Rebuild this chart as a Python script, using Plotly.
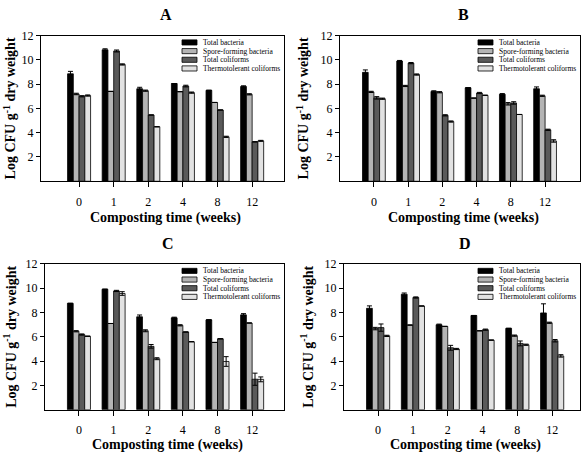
import plotly.graph_objects as go

# ---------------- data ----------------
weeks = ["0", "1", "2", "4", "8", "12"]
series_names = ["Total bacteria", "Spore-forming bacteria", "Total coliforms", "Thermotolerant coliforms"]
series_colors = ["#000000", "#b4b4b4", "#5a5a5a", "#e2e2e2"]
panel_letters = ["A", "B", "C", "D"]
y_ticks = [2, 4, 6, 8, 10, 12]

# Panel A
A_total_bacteria = [8.85, 10.83, 7.62, 8.05, 7.49, 7.81]
A_spore_forming = [7.19, 7.40, 7.46, 7.38, 6.49, 7.16]
A_total_coliforms = [7.00, 10.73, 5.46, 7.84, 5.87, 3.25]
A_thermotolerant = [7.06, 9.62, 4.49, 7.30, 3.66, 3.33]
A_err_total_bacteria = [0.20, 0.08, 0.12, 0.0, 0.0, 0.05]
A_err_spore_forming = [0.06, 0.0, 0.05, 0.0, 0.0, 0.05]
A_err_total_coliforms = [0.05, 0.08, 0.0, 0.07, 0.0, 0.0]
A_err_thermotolerant = [0.05, 0.05, 0.0, 0.05, 0.05, 0.04]

# Panel B
B_total_bacteria = [8.97, 9.90, 7.40, 7.70, 7.17, 7.62]
B_spore_forming = [7.36, 7.85, 7.33, 6.85, 6.38, 7.04]
B_total_coliforms = [6.87, 9.73, 5.43, 7.27, 6.45, 4.24]
B_thermotolerant = [6.80, 8.79, 4.92, 7.08, 5.50, 3.32]
B_err_total_bacteria = [0.20, 0.05, 0.05, 0.0, 0.05, 0.15]
B_err_spore_forming = [0.05, 0.05, 0.05, 0.0, 0.10, 0.05]
B_err_total_coliforms = [0.10, 0.05, 0.05, 0.05, 0.10, 0.05]
B_err_thermotolerant = [0.05, 0.05, 0.05, 0.0, 0.0, 0.10]

# Panel C
C_total_bacteria = [8.76, 9.92, 7.65, 7.57, 7.40, 7.81]
C_spore_forming = [6.46, 7.10, 6.50, 6.95, 5.54, 7.14]
C_total_coliforms = [6.19, 9.78, 5.22, 6.40, 5.84, 2.51]
C_thermotolerant = [6.05, 9.57, 4.20, 5.60, 3.97, 2.50]
C_err_total_bacteria = [0.0, 0.0, 0.15, 0.05, 0.0, 0.10]
C_err_spore_forming = [0.05, 0.0, 0.08, 0.05, 0.0, 0.0]
C_err_total_coliforms = [0.05, 0.05, 0.15, 0.0, 0.0, 0.50]
C_err_thermotolerant = [0.0, 0.15, 0.08, 0.0, 0.40, 0.20]

# Panel D
D_total_bacteria = [8.35, 9.51, 7.00, 7.76, 6.70, 7.97]
D_spore_forming = [6.68, 6.97, 6.86, 6.50, 6.10, 7.16]
D_total_coliforms = [6.76, 9.24, 5.10, 6.59, 5.46, 5.68]
D_thermotolerant = [6.08, 8.54, 5.00, 5.73, 5.35, 4.43]
D_err_total_bacteria = [0.20, 0.10, 0.05, 0.0, 0.0, 0.75]
D_err_spore_forming = [0.10, 0.0, 0.0, 0.0, 0.05, 0.05]
D_err_total_coliforms = [0.30, 0.05, 0.20, 0.05, 0.20, 0.10]
D_err_thermotolerant = [0.05, 0.0, 0.05, 0.0, 0.05, 0.10]

panels_values = [
    [A_total_bacteria, A_spore_forming, A_total_coliforms, A_thermotolerant],
    [B_total_bacteria, B_spore_forming, B_total_coliforms, B_thermotolerant],
    [C_total_bacteria, C_spore_forming, C_total_coliforms, C_thermotolerant],
    [D_total_bacteria, D_spore_forming, D_total_coliforms, D_thermotolerant],
]
panels_errors = [
    [A_err_total_bacteria, A_err_spore_forming, A_err_total_coliforms, A_err_thermotolerant],
    [B_err_total_bacteria, B_err_spore_forming, B_err_total_coliforms, B_err_thermotolerant],
    [C_err_total_bacteria, C_err_spore_forming, C_err_total_coliforms, C_err_thermotolerant],
    [D_err_total_bacteria, D_err_spore_forming, D_err_total_coliforms, D_err_thermotolerant],
]

# ---------------- layout geometry (pixels) ----------------
W, H = 584, 455
FONT = "Liberation Serif, Times New Roman, serif"
# (left, right, top, bottom, x-range-left, x-range-right, y-title-x, x-title-offset)
geom = [
    (41, 284, 29, 177, -1.10, 5.92, 10, 37),
    (340, 580, 29, 177, -0.99, 6.02, 303, 37),
    (45, 284, 261, 409, -0.98, 5.92, 10, 36),
    (344, 580, 261, 409, -0.98, 5.80, 307, 36),
]

def px(x):
    return x / W

def py(y):
    return 1 - y / H

fig = go.Figure()
layout = dict(
    width=W, height=H,
    margin=dict(l=0, r=0, t=0, b=0),
    paper_bgcolor="white", plot_bgcolor="white",
    barmode="group", bargap=0.335, bargroupgap=0,
    showlegend=False,
    font=dict(family=FONT, color="black"),
)
annotations = []
shapes = []

for p, (l, r, t, b, xr0, xr1, ytx, xto) in enumerate(geom):
    suffix = "" if p == 0 else str(p + 1)
    xa = "x" + suffix
    ya = "y" + suffix
    for s in range(4):
        fig.add_trace(go.Bar(
            x=weeks, y=panels_values[p][s], name=series_names[s],
            xaxis=xa, yaxis=ya,
            marker=dict(color=series_colors[s], line=dict(color="black", width=0.8)),
            error_y=dict(type="data", array=panels_errors[p][s], visible=True,
                         color="black", thickness=1, width=2.5),
        ))
    layout["xaxis" + suffix] = dict(
        domain=[px(l), px(r)], anchor=ya, type="category",
        range=[xr0, xr1], showline=True, mirror=True, linecolor="black", linewidth=1.2,
        ticks="outside", ticklen=5, tickcolor="black", tickwidth=1,
        showgrid=False, zeroline=False, tickfont=dict(size=12, family=FONT),
        ticklabelstandoff=4,
    )
    layout["yaxis" + suffix] = dict(
        domain=[py(b), py(t)], anchor=xa, range=[0, 12],
        tickvals=y_ticks, showline=True, mirror=True, linecolor="black", linewidth=1.2,
        ticks="outside", ticklen=4, tickcolor="black", tickwidth=1,
        showgrid=False, zeroline=False, tickfont=dict(size=12, family=FONT),
    )
    cx = (l + r) / 2
    # panel letter
    annotations.append(dict(text="<b>%s</b>" % panel_letters[p], x=px(cx + 3), y=py(t - 21),
                            xref="paper", yref="paper", showarrow=False,
                            font=dict(size=16, family=FONT), xanchor="center", yanchor="middle"))
    # x title
    annotations.append(dict(text="<b>Composting time (weeks)</b>", x=px(cx + 3), y=py(b + xto),
                            xref="paper", yref="paper", showarrow=False, borderpad=0,
                            font=dict(size=14, family=FONT), xanchor="center", yanchor="middle"))
    # y title
    annotations.append(dict(text="<b>Log CFU g<sup>-1</sup> dry weight</b>", x=px(ytx), y=py((t + b) / 2),
                            xref="paper", yref="paper", showarrow=False, textangle=-90,
                            font=dict(size=14, family=FONT), xanchor="center", yanchor="middle"))
    # legend
    bx = r - 102
    for s in range(4):
        yc = t + 7 + s * 8.8
        shapes.append(dict(type="rect", xref="paper", yref="paper",
                           x0=px(bx), x1=px(bx + 15), y0=py(yc + 2.6), y1=py(yc - 2.6),
                           fillcolor=series_colors[s], line=dict(color="black", width=0.8)))
        annotations.append(dict(text=series_names[s], x=px(bx + 19), y=py(yc),
                                xref="paper", yref="paper", showarrow=False,
                                font=dict(size=7.5, family=FONT), xanchor="left", yanchor="middle"))

layout["annotations"] = annotations
layout["shapes"] = shapes
fig.update_layout(**layout)
fig.write_html("out.html",
               config={"displayModeBar": False},
               post_script="document.body.style.margin='0';document.body.style.padding='0';")
